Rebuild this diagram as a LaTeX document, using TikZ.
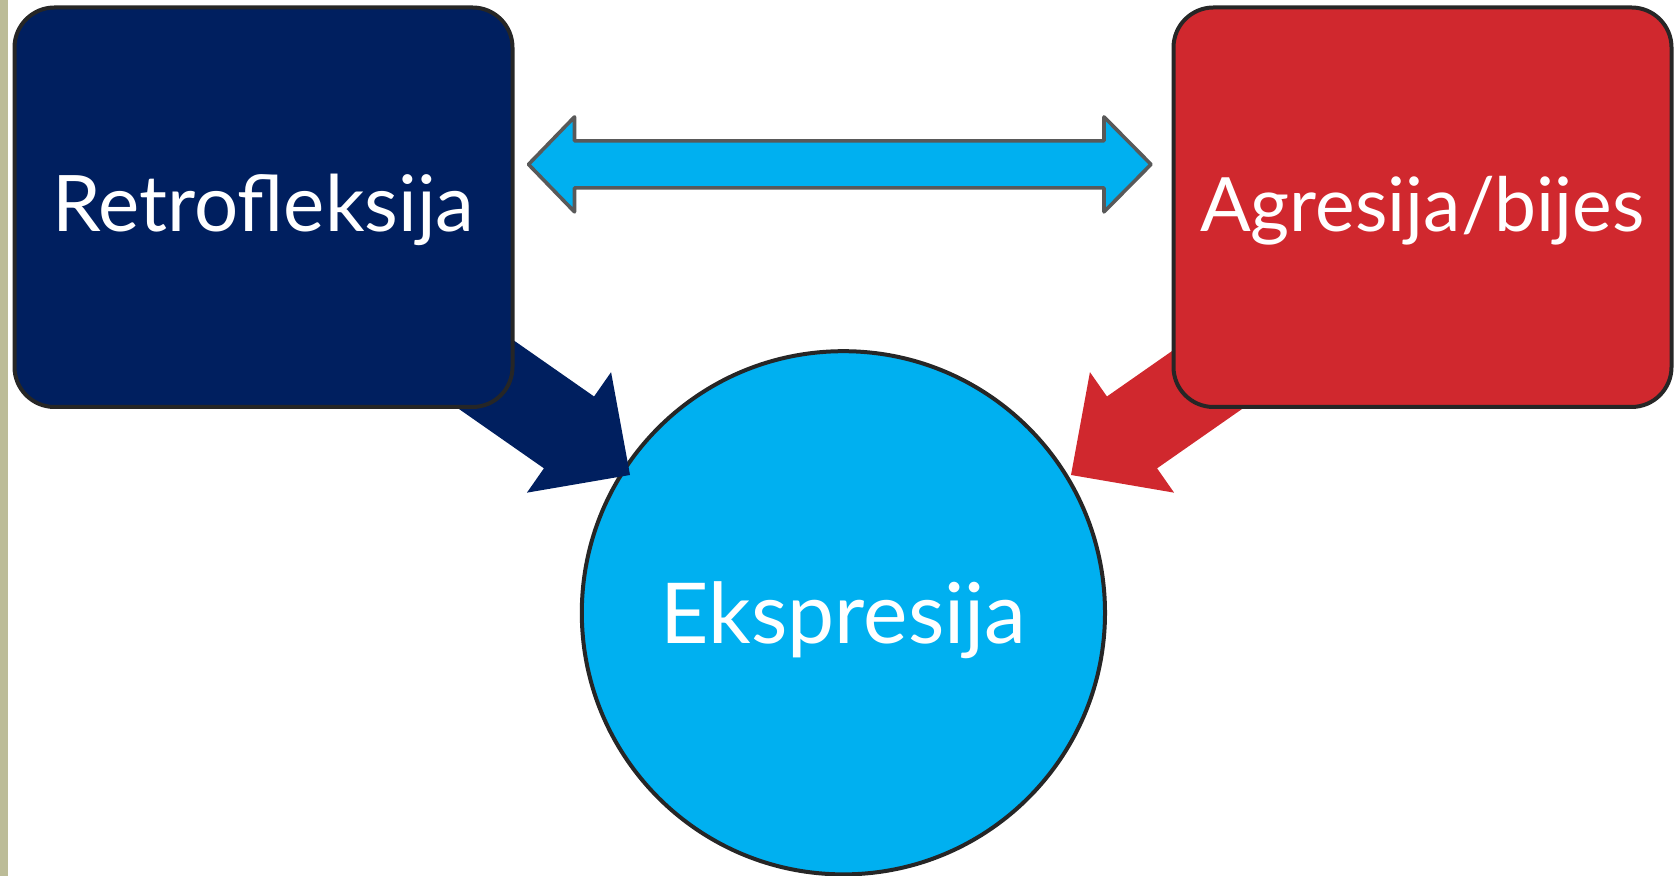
\documentclass[tikz,border=0pt]{standalone}
\usepackage{fontspec}
\setmainfont{Lato}
\usetikzlibrary{calc}
\pgfdeclarelayer{bg}
\pgfdeclarelayer{mid}
\pgfsetlayers{bg,mid,main}
\definecolor{navy}{RGB}{0,31,95}
\definecolor{cardinal}{RGB}{208,40,46}
\definecolor{sky}{RGB}{0,176,240}
\definecolor{rim}{RGB}{38,38,38}
\definecolor{slate}{RGB}{89,89,89}
\definecolor{strip}{RGB}{188,188,152}

% block arrow: #1 tail, #2 tip, #3 colour
\newcommand{\fatarrow}[3]{%
  \coordinate (fh) at ($(#2)!37.2pt!(#1)$);
  \fill[#3] (#2) -- ($(fh)!36.75pt!90:(#2)$) -- ($(fh)!21.9pt!90:(#2)$)
    -- ($(#1)!21.9pt!90:(#2)$) -- ($(#1)!21.9pt!-90:(#2)$)
    -- ($(fh)!21.9pt!-90:(#2)$) -- ($(fh)!36.75pt!-90:(#2)$) -- cycle;}
% label lowered onto the centre line
\newcommand{\drop}[2]{\raisebox{-#1}[0pt][0pt]{#2}}

\begin{document}
\begin{tikzpicture}
  [x=0.5pt,y=0.5pt,
   box/.style={draw=rim,line width=2pt,rounded corners=20pt,
     minimum width=249pt,minimum height=199.75pt,inner sep=0pt,
     text=white,font=\fontsize{39}{44}\selectfont},
   ball/.style={circle,draw=rim,line width=2pt,fill=sky,
     minimum size=261.6pt,inner sep=0pt,
     text=white,font=\fontsize{42}{48}\selectfont}]
  \useasboundingbox (0,0) rectangle (1674,876);
  \fill[strip] (0,0) rectangle (8,876);

  \node[box,fill=navy] (retro) at (263.5,668.75) {\drop{12pt}{Retrofleksija}};
  \node[box,fill=cardinal,font=\fontsize{37.5}{44}\selectfont] (agr) at (1422.5,668.75) {\drop{12pt}{Agresija/bijes}};

  \begin{pgfonlayer}{bg}
    \node[ball] (eks) at (843.4,263.2) {\drop{15.2pt}{Ekspresija}};
  \end{pgfonlayer}

  \coordinate (retrotail) at (302,630);
  \coordinate (agrtail) at (1399,630);
  \coordinate (lt) at (630,401);
  \coordinate (rt) at (1071,401);
  \coordinate (dl) at (528.5,711.6);
  \coordinate (dr) at (1151,711.6);

  \begin{pgfonlayer}{mid}
    \fatarrow{retrotail}{lt}{navy}
    \fatarrow{agrtail}{rt}{cardinal}
  \end{pgfonlayer}

  \draw[slate,line width=1.8pt,line join=round,fill=sky]
    (dl) -- ++(46,47.5) -- ++(0,-24) -- ($(dr)+(-47,23.5)$) -- ++(0,24)
    -- (dr) -- ++(-47,-47.5) -- ++(0,24) -- ($(dl)+(46,-23.5)$)
    -- ++(0,-24) -- cycle;
\end{tikzpicture}
\end{document}
